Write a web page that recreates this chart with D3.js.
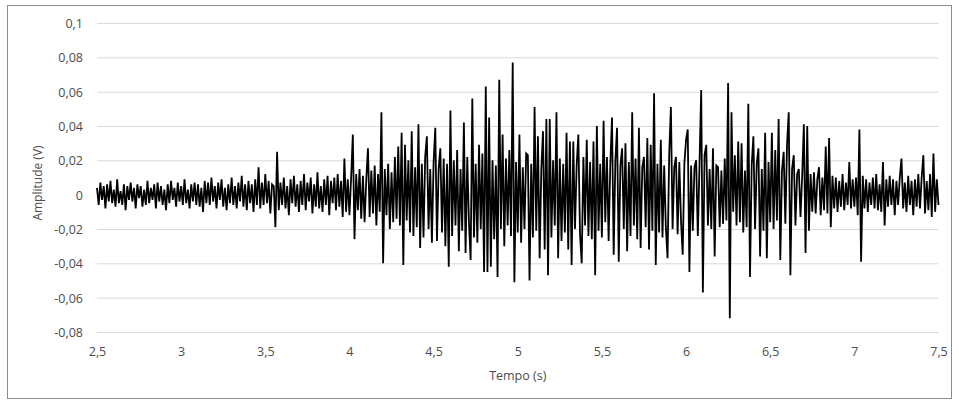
<!DOCTYPE html>
<html>
<head>
<meta charset="utf-8">
<script src="https://cdn.jsdelivr.net/npm/d3@7"></script>
<style>
  html, body { margin: 0; padding: 0; background: #fff; }
  svg { display: block; }
  text { font-family: "Open Sans", "Noto Sans", sans-serif; fill: #4d4d4d; }
</style>
</head>
<body>
<svg id="chart" width="959" height="403"></svg>
<script>
// ---- data ----
const startTime = 2.5;      // s, time of first sample
const sampleStep = 0.01;    // s, spacing between samples
const amplitude = [
  .004,-.006,.007,-.003,.005,-.008,.006,-.004,.008,-.005,
  .003,-.007,.009,-.005,.002,-.006,.006,-.009,.005,-.003,
  .007,-.004,.004,-.008,.006,-.002,.005,-.007,.003,-.006,
  .008,-.005,.004,-.003,.006,-.008,.007,-.004,.005,-.006,
  .003,-.009,.006,-.005,.008,-.003,.004,-.007,.007,-.004,
  .005,-.006,.009,-.005,.003,-.008,.006,-.004,.007,-.006,
  .006,-.007,.004,-.010,.008,-.005,.007,-.006,.010,-.004,
  .005,-.008,.007,-.003,.009,-.007,.004,-.009,.006,-.005,
  .010,-.006,.005,-.008,.007,-.004,.011,-.007,.006,-.009,
  .008,-.005,.006,-.010,.009,-.006,.016,-.008,.007,-.006,
  .012,-.005,.008,-.011,.006,.005,-.019,.025,-.009,.007,
  -.006,.010,-.008,.005,-.012,.009,-.005,.011,-.007,.006,
  -.010,.008,-.006,.012,-.009,.007,-.004,.010,-.011,.006,
  -.007,.013,-.008,.005,-.010,.009,-.006,.011,-.012,.008,
  -.005,.010,-.009,.012,-.007,.008,-.013,.021,-.010,.009,
  -.012,.010,.035,-.026,.012,-.009,.015,-.014,.011,-.016,
  .009,.027,-.013,.014,-.011,.017,-.018,.012,-.010,.048,
  -.040,.015,-.012,.018,-.020,.013,-.016,.022,-.014,.028,
  -.018,.036,-.041,.029,-.015,.020,-.022,.037,-.024,.016,
  -.019,.041,-.031,.018,-.025,.022,.034,-.020,.015,-.028,
  .019,.039,-.027,.015,.027,-.022,.021,-.030,.018,-.042,
  .049,-.024,.020,-.018,.026,-.033,.015,-.021,.042,-.034,
  .022,-.016,-.038,.056,-.025,.018,-.028,.029,-.020,.024,
  -.045,.063,-.045,.045,-.042,.020,-.026,.017,-.048,.067,
  -.020,.035,-.030,.021,-.018,.026,-.024,.077,-.051,.019,
  -.022,.035,-.028,.016,-.020,.024,.023,-.050,.018,-.025,
  .051,-.021,.034,-.037,.015,.037,-.032,.044,-.047,.044,
  -.025,.020,-.018,.048,-.037,.021,-.027,.018,-.022,.036,
  -.032,.031,-.041,.031,-.020,.017,.035,-.023,-.040,.022,
  -.018,.032,-.024,.019,-.026,.031,-.047,.040,-.021,.018,
  -.025,.043,-.016,.022,-.027,.018,.045,-.035,.020,.039,
  -.039,.017,.027,-.020,.030,-.033,.019,-.024,.048,-.018,
  .021,-.026,.039,-.031,.016,.022,-.019,.033,-.032,.029,
  -.021,.059,-.041,.018,-.022,.032,-.025,.017,-.019,-.037,
  .024,.051,-.020,.016,.022,-.023,.019,-.015,-.035,.018,
  .032,.038,-.045,.017,-.021,.016,.020,-.024,.018,.061,
  -.057,.023,.029,-.018,.015,-.020,.027,-.036,.017,.016,
  -.019,.014,-.017,.021,-.015,.065,-.072,.048,-.010,.023,
  -.018,.031,-.016,.030,-.022,.014,-.019,.053,-.048,.017,
  .034,-.020,.018,.027,-.036,.015,-.021,.036,-.037,.019,
  -.016,.036,-.020,.026,-.015,.044,-.038,.014,.025,-.017,
  .029,.048,-.047,.015,.023,-.018,.012,.015,-.013,.011,
  .041,-.034,.040,-.021,.012,-.010,.013,-.011,.009,.016,
  -.012,.010,-.009,.028,-.011,.033,-.019,.011,-.008,.010,
  -.010,.008,-.007,.012,-.009,.007,-.006,.019,-.008,.009,
  -.007,.010,-.012,.038,-.039,.011,-.008,.009,-.010,.007,
  -.006,.010,-.008,.012,-.009,.006,-.010,.019,-.018,.009,
  -.007,.011,-.006,.009,-.012,.008,-.006,.010,.021,-.008,
  .007,-.010,.011,-.006,.008,-.012,.009,-.007,.012,-.008,
  .010,.023,-.011,.008,-.009,.012,-.013,.024,-.010,.009,
  -.006
];
const xTicks = [2.5, 3, 3.5, 4, 4.5, 5, 5.5, 6, 6.5, 7, 7.5];
const xTickLabels = ["2,5", "3", "3,5", "4", "4,5", "5", "5,5", "6", "6,5", "7", "7,5"];
const yTicks = [0.1, 0.08, 0.06, 0.04, 0.02, 0, -0.02, -0.04, -0.06, -0.08];
const yTickLabels = ["0,1", "0,08", "0,06", "0,04", "0,02", "0", "-0,02", "-0,04", "-0,06", "-0,08"];
const xTitle = "Tempo (s)";
const yTitle = "Amplitude (V)";

// ---- layout ----
const W = 959, H = 403;
const plot = { left: 97, right: 938.5, top: 23, bottom: 332 };

const svg = d3.select("#chart");

// outer border
svg.append("rect")
  .attr("x", 7.5).attr("y", 5.5)
  .attr("width", W - 15).attr("height", H - 10)
  .attr("fill", "#fff").attr("stroke", "#8c8c8c").attr("stroke-width", 1);

const x = d3.scaleLinear().domain([2.5, 7.5]).range([plot.left, plot.right]);
const y = d3.scaleLinear().domain([-0.08, 0.1]).range([plot.bottom, plot.top]);

// gridlines
const grid = svg.append("g")
  .attr("transform", `translate(${plot.left},0)`)
  .call(d3.axisLeft(y).tickValues(yTicks).tickSize(-(plot.right - plot.left)).tickFormat(""));
grid.select(".domain").remove();
grid.selectAll(".tick line").attr("stroke", "#d9d9d9").attr("stroke-width", 1);

// y tick labels
const yAxis = svg.append("g")
  .attr("transform", `translate(${plot.left - 14},0)`)
  .call(d3.axisLeft(y).tickValues(yTicks).tickSize(0)
    .tickFormat((d, i) => yTickLabels[i]));
yAxis.select(".domain").remove();
yAxis.selectAll("text")
  .attr("x", 0).attr("dy", "0.35em")
  .style("font-size", "12.5px").style("fill", "#4d4d4d")
  .style("font-family", '"Open Sans", "Noto Sans", sans-serif');

// x tick labels
const xAxis = svg.append("g")
  .attr("transform", `translate(0,${plot.bottom})`)
  .call(d3.axisBottom(x).tickValues(xTicks).tickSize(0)
    .tickFormat((d, i) => xTickLabels[i]));
xAxis.select(".domain").remove();
xAxis.selectAll("text")
  .attr("y", 20).attr("dy", "0.35em")
  .style("font-size", "12.5px").style("fill", "#4d4d4d")
  .style("font-family", '"Open Sans", "Noto Sans", sans-serif');

// line
const line = d3.line()
  .x((d, i) => x(startTime + i * sampleStep))
  .y(d => y(d));

svg.append("path")
  .datum(amplitude)
  .attr("d", line)
  .attr("fill", "none")
  .attr("stroke", "#000")
  .attr("stroke-width", 1.8)
  .attr("stroke-linejoin", "miter");

// axis titles
svg.append("text")
  .attr("x", (plot.left + plot.right) / 2).attr("y", 376)
  .attr("dy", "0.35em")
  .attr("text-anchor", "middle")
  .style("font-size", "12.5px")
  .text(xTitle);

svg.append("text")
  .attr("transform", `translate(38,183) rotate(-90)`)
  .attr("dy", "0.35em")
  .attr("text-anchor", "middle")
  .style("font-size", "12px")
  .text(yTitle);
</script>
</body>
</html>
